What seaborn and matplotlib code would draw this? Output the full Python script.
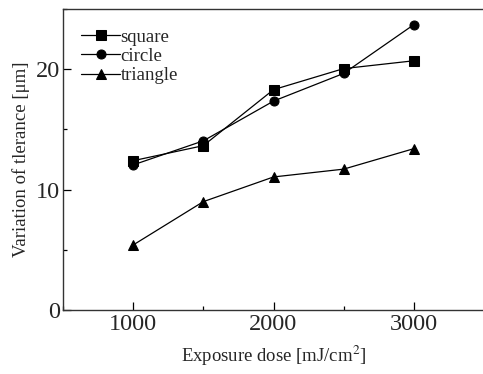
import matplotlib
matplotlib.use("Agg")
import matplotlib.pyplot as plt
import seaborn as sns
import pandas as pd
from matplotlib.ticker import MultipleLocator

dose = [1000, 1500, 2000, 2500, 3000]
square = [12.4, 13.65, 18.3, 20.05, 20.7]
circle = [12.05, 14.05, 17.35, 19.65, 23.7]
triangle = [5.4, 9.0, 11.05, 11.7, 13.4]
series_names = ["square", "circle", "triangle"]

df = pd.DataFrame({
    "dose": dose * 3,
    "value": square + circle + triangle,
    "shape": ["square"] * 5 + ["circle"] * 5 + ["triangle"] * 5,
})

sns.set_style("ticks")
plt.rcParams["font.family"] = ["Liberation Serif", "DejaVu Serif"]
plt.rcParams["mathtext.fontset"] = "stix"

fig = plt.figure(figsize=(4.83, 3.74), dpi=100)
ax = fig.add_axes([63 / 483, 1 - 310 / 374, 421 / 483, (310 - 9) / 374])

sns.lineplot(data=df, x="dose", y="value", hue="shape", style="shape",
             palette={n: "black" for n in series_names},
             markers={"square": "s", "circle": "o", "triangle": "^"},
             dashes=False, markersize=6.5, linewidth=0.9,
             markeredgecolor="black", ax=ax, legend=True)

ax.set_xlim(500, 3500)
ax.set_ylim(0, 25)
ax.xaxis.set_major_locator(MultipleLocator(1000))
ax.xaxis.set_minor_locator(MultipleLocator(500))
ax.yaxis.set_major_locator(MultipleLocator(10))
ax.yaxis.set_minor_locator(MultipleLocator(5))
ax.tick_params(which="both", direction="in", labelsize=17.5, width=0.9, color="black")
ax.tick_params(which="major", length=6)
ax.tick_params(which="minor", length=3)
ax.tick_params(axis="y", pad=2)
ax.tick_params(axis="x", pad=3)
for s in ["left", "bottom", "top"]:
    ax.spines[s].set_linewidth(1.0)
    ax.spines[s].set_color("#333333")
ax.spines["right"].set_visible(False)

ax.set_xlabel(r"Exposure dose [mJ/cm$^2$]", fontsize=13.5, labelpad=6)
ax.set_ylabel("Variation of tlerance [μm]", fontsize=13.5, labelpad=4)

h, l = ax.get_legend_handles_labels()
leg = ax.legend(h, l, loc="upper left", bbox_to_anchor=(0.025, 0.96), frameon=False,
                fontsize=13.5, handlelength=2.1, handletextpad=0.0,
                labelspacing=0.12, borderaxespad=0)

fig.savefig("out.png", dpi=100)
